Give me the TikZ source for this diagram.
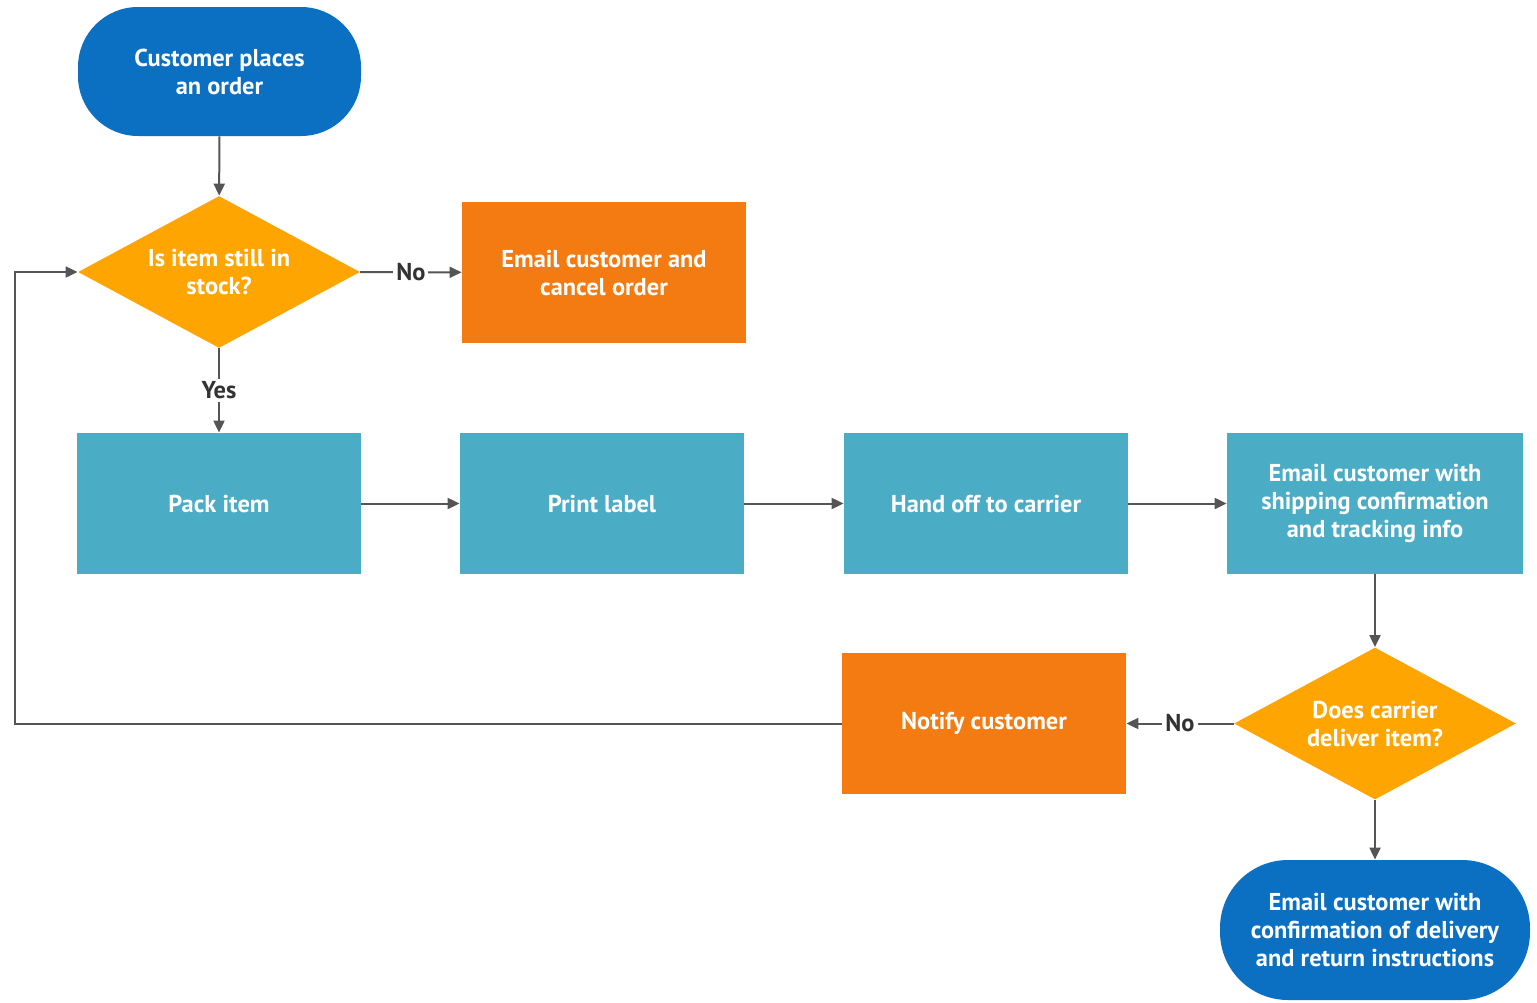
\documentclass[tikz,border=0pt]{standalone}
\usepackage{fontspec}
\setmainfont{PT Sans}
\usetikzlibrary{shapes.geometric,arrows.meta}
\definecolor{termblue}{HTML}{0B6FC2}
\definecolor{decamber}{HTML}{FFA502}
\definecolor{alertorange}{HTML}{F47A12}
\definecolor{steptea}{HTML}{4BACC6}
\definecolor{linegray}{HTML}{555555}
\definecolor{labelgray}{HTML}{333333}
\tikzset{
  base/.style={inner sep=0pt, align=center, text=white,
    font=\fontsize{12.2}{14}\selectfont\bfseries},
  terminal/.style={base, rectangle, rounded corners=30pt, fill=termblue},
  stepbox/.style={base, rectangle, fill=steptea,
    minimum width=142pt, minimum height=70.5pt},
  alertbox/.style={base, rectangle, fill=alertorange,
    minimum width=142pt, minimum height=70.5pt},
  decision/.style={base, diamond, aspect=1.86, fill=decamber,
    minimum width=141pt, minimum height=76pt},
  flow/.style={draw=linegray, line width=1pt,
    -{Triangle[length=6pt,width=5.5pt]}},
  plain/.style={draw=linegray, line width=1pt},
  answer/.style={fill=white, inner sep=1.5pt, text=labelgray,
    font=\fontsize{12.2}{14}\selectfont\bfseries}
}
\begin{document}
\begin{tikzpicture}[x=0.5pt, y=-0.5pt]
\useasboundingbox (0,0) rectangle (1537,1002);

% shapes
\node[terminal, minimum width=141.5pt, minimum height=64.5pt] (start) at (219.5,71.5) {Customer places\\an order};
\node[decision] (stock) at (219,272) {Is item still in\\stock?};
\node[alertbox] (cancel) at (604,272.5) {Email customer and\\cancel order};
\node[stepbox] (pack) at (219,503.5) {Pack item};
\node[stepbox] (label) at (602,503.5) {Print label};
\node[stepbox] (carrier) at (986,503.5) {Hand off to carrier};
\node[stepbox, minimum width=148pt] (ship) at (1375,503.5) {Email customer with\\shipping confirmation\\and tracking info};
\node[decision] (deliver) at (1375,723.5) {Does carrier\\deliver item?};
\node[alertbox] (notify) at (984,723.5) {Notify customer};
\node[terminal, minimum width=155pt, minimum height=70pt, rounded corners=34pt] (done) at (1375,930) {Email customer with\\confirmation of delivery\\and return instructions};
\coordinate (loop) at (15,723.5);

% connectors
\draw[flow] (start) -- (stock);
\draw[flow] (stock) -- node[answer] {No} (cancel);
\draw[flow] (stock) -- node[answer] {Yes} (pack);
\draw[flow] (pack) -- (label);
\draw[flow] (label) -- (carrier);
\draw[flow] (carrier) -- (ship);
\draw[flow] (ship) -- (deliver);
\draw[flow] (deliver) -- node[answer] {No} (notify);
\draw[flow] (deliver) -- (done);
\draw[flow] (notify.west) -- (loop) |- (stock.west);
\end{tikzpicture}
\end{document}
